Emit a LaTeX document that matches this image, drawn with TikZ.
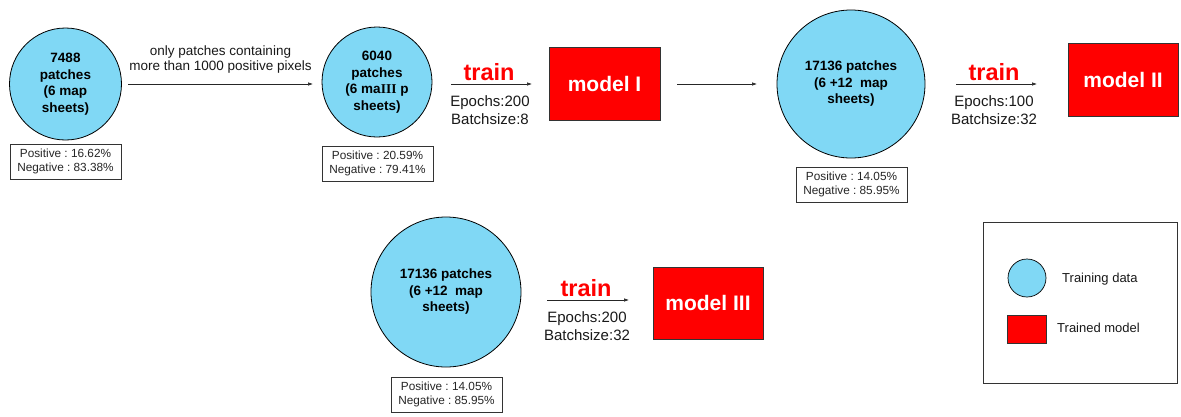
\documentclass[tikz,border=0pt]{standalone}
\usepackage{fontspec}
\setmainfont{Liberation Sans}
\newfontfamily\serifx{Liberation Serif}
\usetikzlibrary{arrows.meta}
\frenchspacing
\definecolor{databl}{RGB}{128,216,245}
\definecolor{modred}{RGB}{255,0,0}
\tikzset{
  datac/.style={circle, draw=black, line width=0.8pt, fill=databl, inner sep=0pt, align=center,
    font=\fontsize{13.5}{16.5}\selectfont\bfseries},
  modelbox/.style={rectangle, draw=black!80, line width=0.7pt, fill=modred, inner sep=0pt,
    text=white, font=\fontsize{21}{24}\selectfont\bfseries},
  statbox/.style={rectangle, draw=black!80, line width=0.8pt, inner sep=0pt, align=center,
    font=\fontsize{11.8}{14}\selectfont, text=black!85},
  trainlbl/.style={text=modred, font=\fontsize{23.5}{26}\selectfont\bfseries, inner sep=0pt},
  paramlbl/.style={align=center, font=\fontsize{15}{17.5}\selectfont, inner sep=0pt, text=black!90},
  flow/.style={-{Latex[length=5pt,width=3.5pt]}, line width=0.6pt, draw=black!85},
  legtext/.style={font=\fontsize{13}{15}\selectfont, anchor=west, inner sep=0pt, text=black!90}
}
\begin{document}
\begin{tikzpicture}[x=1pt,y=-1pt]
\useasboundingbox[fill=white] (0,0) rectangle (1181,416);

% row 1
\node[datac, minimum size=112pt] (d1) at (65.5,84) {7488\\patches\\(6 map\\sheets)};
\node[statbox, minimum width=111pt, minimum height=35pt] (s1) at (65.5,161.5) {Positive : 16.62\%\\Negative : 83.38\%};

\node[datac, minimum size=110pt] (d2) at (377,82) {6040\\patches\\(6 ma{\serifx III} p\\sheets)};
\node[statbox, minimum width=111pt, minimum height=35pt] (s2) at (377.5,163.5) {Positive : 20.59\%\\Negative : 79.41\%};

\coordinate (a1s) at (128,84);
\coordinate (a1e) at (313,84);
\draw[flow] (a1s) -- (a1e);
\node[align=center, inner sep=0pt, font=\fontsize{13.5}{15}\selectfont, text=black!90] (filt) at (220.5,59.5) {only patches containing\\more than 1000 positive pixels};

\node[modelbox, minimum width=111pt, minimum height=73pt] (m1) at (604.5,83.5) {model I};
\coordinate (a2s) at (451,84);
\coordinate (a2e) at (532,84);
\draw[flow] (a2s) -- (a2e);
\node[trainlbl] (t1) at (489,72) {train};
\node[paramlbl] (p1) at (490,110) {Epochs:200\\Batchsize:8};

\coordinate (a3s) at (677,84);
\coordinate (a3e) at (757,84);
\draw[flow] (a3s) -- (a3e);

\node[datac, minimum size=148pt] (d3) at (851,84) {17136 patches\\(6 +12\ \ map\\sheets)};
\node[statbox, minimum width=111pt, minimum height=35pt] (s3) at (851.5,184.5) {Positive : 14.05\%\\Negative : 85.95\%};

\node[modelbox, minimum width=110pt, minimum height=73pt] (m2) at (1123,79.5) {model II};
\coordinate (a4s) at (956,84);
\coordinate (a4e) at (1037,84);
\draw[flow] (a4s) -- (a4e);
\node[trainlbl] (t2) at (994,72) {train};
\node[paramlbl] (p2) at (994,110) {Epochs:100\\Batchsize:32};

% row 2
\node[datac, minimum size=150pt] (d4) at (446,292) {17136 patches\\(6 +12\ \ map\\sheets)};
\node[statbox, minimum width=111pt, minimum height=35pt] (s4) at (446.5,394.5) {Positive : 14.05\%\\Negative : 85.95\%};

\node[modelbox, minimum width=110pt, minimum height=72pt] (m3) at (708,303) {model III};
\coordinate (a5s) at (547,300);
\coordinate (a5e) at (629,300);
\draw[flow] (a5s) -- (a5e);
\node[trainlbl] (t3) at (586,288) {train};
\node[paramlbl] (p3) at (587,326) {Epochs:200\\Batchsize:32};

% legend
\node[rectangle, draw=black!80, line width=0.8pt, minimum width=194pt, minimum height=161pt, inner sep=0pt] (leg) at (1080,302.5) {};
\node[circle, draw=black, line width=0.7pt, fill=databl, minimum size=38pt, inner sep=0pt] (lc) at (1027,278) {};
\node[legtext] (lct) at (1062,279) {Training data};
\node[rectangle, draw=black!80, line width=0.7pt, fill=modred, minimum width=39pt, minimum height=28pt, inner sep=0pt] (lr) at (1026.5,329) {};
\node[legtext] (lrt) at (1057,328) {Trained model};
\end{tikzpicture}
\end{document}
